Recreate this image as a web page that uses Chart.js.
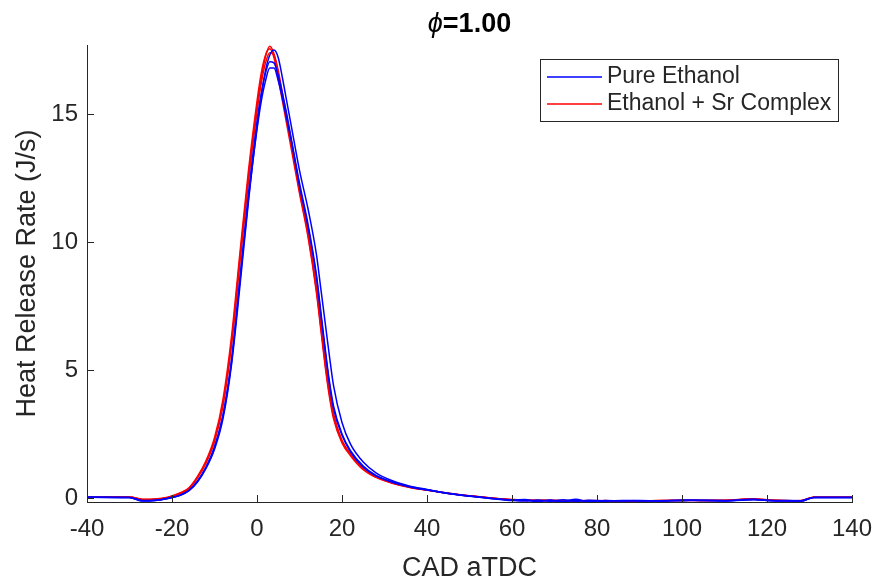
<!DOCTYPE html>
<html>
<head>
<meta charset="utf-8">
<script src="https://cdn.jsdelivr.net/npm/chart.js@4.4.0/dist/chart.umd.min.js"></script>
<style>
  html, body { margin: 0; padding: 0; background: #fff; }
  #wrap { width: 881px; height: 585px; }
</style>
</head>
<body>
<div id="wrap"><canvas id="hrrChart" width="881" height="585"></canvas></div>
<script>
// crank angle (CAD aTDC) sample positions
const cad = [-40, -30, -27, -24, -21, -18, -16, -14, -12, -10,
             -8, -6, -4, -2, 0, 1, 2, 3, 4, 5,
             6, 7, 8, 10, 12, 14, 15, 16, 17, 18,
             20, 22, 25, 28, 32, 36, 40, 45, 50, 55,
             60, 63, 66, 69, 72, 75, 78, 82, 86, 90,
             95, 100, 105, 110, 114, 117, 120, 124, 128, 131,
             140];

// Pure Ethanol runs (J/s)
const pure1 = [0.03, 0.02, -0.12, -0.1, -0.02, 0.1, 0.28, 0.62, 1.15, 1.9,
               3.1, 5.2, 8.3, 11.6, 14.5, 15.7, 16.7, 17.3, 17.5, 17.2,
               16.4, 15.5, 14.6, 12.8, 11.3, 9.5, 8.2, 6.9, 5.6, 4.4,
               2.95, 2.1, 1.4, 0.98, 0.66, 0.46, 0.33, 0.18, 0.07, -0.02,
               -0.08, -0.06, -0.15, -0.08, -0.14, -0.05, -0.15, -0.1, -0.12, -0.1,
               -0.12, -0.08, -0.1, -0.11, -0.07, -0.05, -0.09, -0.1, -0.11, 0.02,
               0.02];
const pure2 = [0.03, 0.02, -0.1, -0.09, -0.01, 0.12, 0.3, 0.66, 1.2, 2.0,
               3.25, 5.4, 8.6, 11.9, 14.7, 15.8, 16.6, 17.05, 17.0, 16.5,
               15.8, 15.0, 14.1, 12.3, 10.7, 8.7, 7.3, 5.9, 4.6, 3.6,
               2.5, 1.85, 1.25, 0.88, 0.62, 0.44, 0.32, 0.17, 0.07, -0.01,
               -0.09, -0.12, -0.08, -0.13, -0.07, -0.13, -0.09, -0.12, -0.11, -0.12,
               -0.11, -0.1, -0.09, -0.1, -0.08, -0.06, -0.1, -0.12, -0.12, 0.02,
               0.02];
const pure3 = [0.03, 0.02, -0.11, -0.1, -0.02, 0.11, 0.29, 0.64, 1.18, 1.95,
               3.2, 5.3, 8.5, 11.7, 14.4, 15.5, 16.3, 16.8, 16.8, 16.3,
               15.6, 14.8, 14.0, 12.2, 10.6, 8.6, 7.2, 5.8, 4.5, 3.5,
               2.45, 1.8, 1.2, 0.86, 0.6, 0.43, 0.31, 0.17, 0.06, -0.02,
               -0.1, -0.09, -0.13, -0.1, -0.15, -0.1, -0.12, -0.13, -0.1, -0.11,
               -0.12, -0.11, -0.1, -0.12, -0.09, -0.07, -0.1, -0.11, -0.12, 0.02,
               0.02];

// Ethanol + Sr Complex runs (J/s)
const sr1 = [0.04, 0.04, -0.06, -0.05, 0.02, 0.18, 0.38, 0.8, 1.4, 2.25,
             3.7, 6.1, 9.4, 12.6, 15.3, 16.4, 17.25, 17.65, 17.35, 16.6,
             15.7, 14.8, 13.9, 12.0, 10.3, 8.1, 6.7, 5.3, 4.1, 3.2,
             2.2, 1.7, 1.15, 0.82, 0.58, 0.42, 0.31, 0.18, 0.08, 0.0,
             -0.07, -0.08, -0.1, -0.09, -0.1, -0.12, -0.1, -0.11, -0.13, -0.12,
             -0.1, -0.09, -0.1, -0.1, -0.06, -0.04, -0.08, -0.11, -0.1, 0.03,
             0.03];
const sr2 = [0.04, 0.04, -0.05, -0.04, 0.03, 0.2, 0.4, 0.84, 1.45, 2.35,
             3.85, 6.3, 9.6, 12.8, 15.5, 16.6, 17.3, 17.55, 17.2, 16.4,
             15.5, 14.6, 13.7, 11.9, 10.2, 8.0, 6.6, 5.2, 4.0, 3.1,
             2.15, 1.65, 1.1, 0.8, 0.56, 0.41, 0.3, 0.17, 0.08, 0.0,
             -0.06, -0.09, -0.1, -0.1, -0.11, -0.1, -0.12, -0.1, -0.14, -0.13,
             -0.1, -0.1, -0.09, -0.1, -0.05, -0.03, -0.07, -0.1, -0.11, 0.03,
             0.03];
const sr3 = [0.04, 0.04, -0.07, -0.06, 0.01, 0.17, 0.36, 0.78, 1.36, 2.2,
             3.6, 5.95, 9.2, 12.4, 15.1, 16.2, 17.0, 17.4, 17.3, 16.7,
             15.8, 14.9, 14.0, 12.1, 10.4, 8.2, 6.8, 5.4, 4.2, 3.3,
             2.25, 1.72, 1.15, 0.83, 0.58, 0.42, 0.31, 0.18, 0.08, 0.0,
             -0.08, -0.1, -0.09, -0.11, -0.12, -0.1, -0.11, -0.13, -0.12, -0.11,
             -0.11, -0.1, -0.11, -0.09, -0.06, -0.05, -0.09, -0.1, -0.12, 0.03,
             0.03];

const xTicks = [-40, -20, 0, 20, 40, 60, 80, 100, 120, 140];
const yTicks = [0, 5, 10, 15];
const seriesNames = ['Pure Ethanol', 'Ethanol + Sr Complex'];

const AXIS = '#262626';
const FONT = '"Liberation Sans", Arial, Helvetica, sans-serif';

function run(values, name, color) {
    return {
        label: name,
        data: cad.map(function(x, i) { return { x: x, y: values[i] }; }),
        borderColor: color,
        backgroundColor: color,
        borderWidth: 1.5,
        pointRadius: 0,
        fill: false,
        cubicInterpolationMode: 'monotone'
    };
}

// matlab-ish decorations: inward ticks, boxed legend, title
const matlabLook = {
    id: 'matlabLook',
    afterDraw: function(chart) {
        const ctx = chart.ctx;
        const area = chart.chartArea;
        const xs = chart.scales.x;
        const ys = chart.scales.y;
        ctx.save();

        ctx.strokeStyle = AXIS;
        ctx.lineWidth = 1;
        ctx.beginPath();
        xTicks.forEach(function(v) {
            const px = Math.round(xs.getPixelForValue(v)) + 0.5;
            ctx.moveTo(px, area.bottom);
            ctx.lineTo(px, area.bottom - 7);
        });
        yTicks.forEach(function(v) {
            const py = Math.round(ys.getPixelForValue(v)) + 0.5;
            ctx.moveTo(area.left, py);
            ctx.lineTo(area.left + 7, py);
        });
        ctx.stroke();

        // legend (one entry per group)
        const seen = {};
        const entries = [];
        chart.data.datasets.forEach(function(ds) {
            if (!seen[ds.label]) { seen[ds.label] = true; entries.push(ds); }
        });
        ctx.font = '23px ' + FONT;
        let textW = 0;
        entries.forEach(function(ds) { textW = Math.max(textW, ctx.measureText(ds.label).width); });
        const rowH = 27;
        const boxW = Math.round(7 + 55 + 5 + textW + 7);
        const boxH = rowH * entries.length + 8;
        const boxR = area.right - 14;
        const boxL = boxR - boxW;
        const boxT = area.top + 14;
        ctx.fillStyle = '#fff';
        ctx.fillRect(boxL, boxT, boxW, boxH);
        ctx.strokeStyle = AXIS;
        ctx.strokeRect(boxL + 0.5, boxT + 0.5, boxW, boxH);
        entries.forEach(function(ds, i) {
            const cy = boxT + 4 + rowH / 2 + i * rowH + 0.5;
            ctx.strokeStyle = ds.borderColor;
            ctx.lineWidth = 1.5;
            ctx.beginPath();
            ctx.moveTo(boxL + 7, cy);
            ctx.lineTo(boxL + 62, cy);
            ctx.stroke();
            ctx.fillStyle = AXIS;
            ctx.textAlign = 'left';
            ctx.textBaseline = 'middle';
            ctx.fillText(ds.label, boxL + 67, cy);
        });

        // title: italic phi + bold rest
        const phi = '\u03D5';
        const rest = '=1.00';
        ctx.font = 'italic 27px ' + FONT;
        const w1 = ctx.measureText(phi).width;
        ctx.font = 'bold 27px ' + FONT;
        const w2 = ctx.measureText(rest).width;
        const cx = (area.left + area.right) / 2;
        let tx = cx - (w1 + w2) / 2;
        ctx.fillStyle = '#000';
        ctx.textAlign = 'left';
        ctx.textBaseline = 'alphabetic';
        ctx.font = 'italic 27px ' + FONT;
        ctx.fillText(phi, tx, 32);
        ctx.font = 'bold 27px ' + FONT;
        ctx.fillText(rest, tx + w1, 32);

        ctx.restore();
    }
};

const ctx = document.getElementById('hrrChart').getContext('2d');
new Chart(ctx, {
    type: 'line',
    data: {
        datasets: [
            run(pure1, seriesNames[0], '#0000ff'),
            run(pure2, seriesNames[0], '#0000ff'),
            run(pure3, seriesNames[0], '#0000ff'),
            run(sr1, seriesNames[1], '#ff0000'),
            run(sr2, seriesNames[1], '#ff0000'),
            run(sr3, seriesNames[1], '#ff0000')
        ]
    },
    options: {
        responsive: false,
        animation: false,
        devicePixelRatio: 1,
        layout: { padding: { top: 45, right: 29, bottom: 0, left: 0 } },
        plugins: {
            legend: { display: false },
            title: { display: false },
            tooltip: { enabled: false }
        },
        scales: {
            x: {
                type: 'linear',
                min: -40,
                max: 140,
                afterBuildTicks: function(s) { s.ticks = xTicks.map(function(v) { return { value: v }; }); },
                afterFit: function(s) { s.height = 83; s.paddingLeft = 0; s.paddingRight = 0; },
                grid: { display: false, drawTicks: false },
                border: { display: true, color: AXIS, width: 1 },
                ticks: { color: AXIS, font: { family: FONT, size: 24 }, padding: 13, maxRotation: 0 },
                title: { display: true, text: 'CAD aTDC', color: AXIS, font: { family: FONT, size: 27 }, padding: { top: 0, bottom: 0 } }
            },
            y: {
                type: 'linear',
                min: -0.16,
                max: 17.7,
                afterBuildTicks: function(s) { s.ticks = yTicks.map(function(v) { return { value: v }; }); },
                afterFit: function(s) { s.width = 87; s.paddingTop = 0; s.paddingBottom = 0; },
                grid: { display: false, drawTicks: false },
                border: { display: true, color: AXIS, width: 1 },
                ticks: { color: AXIS, font: { family: FONT, size: 24 }, padding: 9 },
                title: { display: true, text: 'Heat Release Rate (J/s)', color: AXIS, font: { family: FONT, size: 27 }, padding: { top: 11, bottom: 0 } }
            }
        }
    },
    plugins: [matlabLook]
});
</script>
</body>
</html>
